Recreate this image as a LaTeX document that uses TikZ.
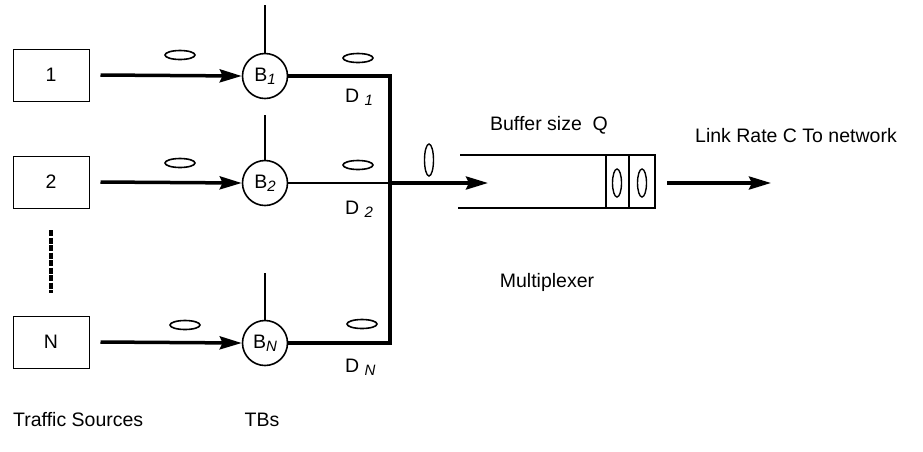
\documentclass[tikz,border=0pt]{standalone}
\usepackage{fontspec}
\setmainfont{Liberation Sans}
\usetikzlibrary{arrows.meta,shapes.geometric}
\newcommand{\sbi}[1]{\raisebox{-3pt}{\fontsize{15}{15}\selectfont\itshape #1}}
\begin{document}
\begin{tikzpicture}[x=1pt,y=-1pt,font=\fontsize{19.5}{22}\selectfont,
  src/.style={draw,line width=1pt,minimum width=76pt,minimum height=52pt,inner sep=0pt},
  tb/.style={circle,draw,line width=1.6pt,minimum size=45pt,inner sep=0pt},
  flow/.style={line width=3.5pt,-{Stealth[length=22pt,width=13pt,inset=3pt]}},
  bus/.style={line width=3.5pt,line join=miter},
  stem/.style={line width=1.4pt},
  pkt/.style={ellipse,draw,line width=1.6pt,minimum width=30pt,minimum height=9pt,inner sep=0pt},
  vpkt/.style={ellipse,draw,line width=1.4pt,minimum width=9pt,minimum height=28pt,inner sep=0pt},
  lbl/.style={inner sep=0pt}]
\useasboundingbox (0,0) rectangle (923,451);

% sources
\node[src] (s1) at (51,75) {1};
\node[src] (s2) at (51,182) {2};
\node[src] (sN) at (51,342) {N};
\coordinate (dd1) at (51,230);
\coordinate (dd2) at (51,293);
\draw[line width=3.5pt,dash pattern=on 6pt off 1.5pt] (dd1) -- (dd2);

% token buckets
\node[tb] (b1) at (265,76) {B\sbi{1}};
\node[tb] (b2) at (265,183) {B\sbi{2}};
\node[tb] (bN) at (265,343) {B\sbi{N}};
\coordinate (t1) at (265,5);
\coordinate (t2) at (265,115);
\coordinate (tN) at (265,273);
\draw[stem] (t1) -- (b1);
\draw[stem] (t2) -- (b2);
\draw[stem] (tN) -- (bN);

% input arrows
\draw[flow] ([xshift=11pt]s1.east) -- (b1.west);
\draw[flow] ([xshift=11pt]s2.east) -- (b2.west);
\draw[flow] ([xshift=11pt]sN.east) -- (bN.west);

% packets
\node[pkt] (p1) at (180,55) {};
\node[pkt] (p2) at (180,163) {};
\node[pkt] (pN) at (185,325) {};
\node[pkt] (q1) at (358,58) {};
\node[pkt] (q2) at (358,165) {};
\node[pkt] (qN) at (362,324) {};

% outputs
\coordinate (j1) at (390,76);
\coordinate (j2) at (390,183);
\coordinate (jN) at (390,343);
\draw[bus] (b1.east) -- (j1) -- (jN) -- (bN.east);
\draw[line width=2pt] (b2.east) -- (j2);
\coordinate (in) at (488,183);
\draw[flow] (j2) -- (in);
\node[vpkt,minimum height=32pt] (pin) at (429,160) {};

\node[lbl,anchor=west] (D1) at (345,97) {D \sbi{1}};
\node[lbl,anchor=west] (D2) at (345,209) {D \sbi{2}};
\node[lbl,anchor=west] (DN) at (345,367) {D \sbi{N}};

% buffer
\coordinate (bt0) at (460,155);
\coordinate (bt1) at (655,155);
\coordinate (bb0) at (458,208);
\coordinate (bb1) at (655,208);
\draw[line width=2.8pt] (bt0) -- (bt1);
\draw[line width=2.8pt] (bb0) -- (bb1);
\node[draw,line width=2pt,minimum width=49pt,minimum height=53pt,inner sep=0pt] (cells) at (630.5,181.5) {};
\coordinate (cm1) at (629,155);
\coordinate (cm2) at (629,208);
\draw[line width=2pt] (cm1) -- (cm2);
\node[vpkt] (c1) at (617,183) {};
\node[vpkt] (c2) at (642,183) {};

\coordinate (o0) at (667,183);
\coordinate (o1) at (771,183);
\draw[flow] (o0) -- (o1);

% labels
\node[lbl] (bs) at (549,125) {Buffer size\ \ Q};
\node[lbl,anchor=west] (lr) at (695,136) {Link Rate C To network};
\node[lbl] (mx) at (547,282) {Multiplexer};
\node[lbl,anchor=west] (ts) at (13,420) {Traffic Sources};
\node[lbl] (tbs) at (262,420) {TBs};
\end{tikzpicture}
\end{document}
